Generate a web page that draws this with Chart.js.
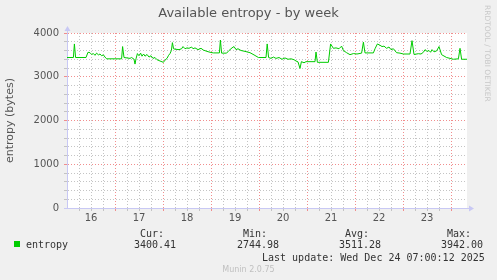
<!DOCTYPE html>
<html>
<head>
<meta charset="utf-8">
<script src="https://cdn.jsdelivr.net/npm/chart.js@4/dist/chart.umd.min.js"></script>
<style>
  html, body { margin: 0; padding: 0; background: #f0f0f0; }
  #wrap { position: relative; width: 497px; height: 280px; overflow: hidden; }
  canvas { position: absolute; left: 0; top: 0; }
  .t { position: absolute; white-space: pre; line-height: 10px; }
  .mono { font: 10px "DejaVu Sans Mono", monospace; color: #333; }
  #title { left: 0; width: 497px; top: 6px; text-align: center; font: 13px "DejaVu Sans", sans-serif; color: #555; line-height: 14px; }
  #rrd { left: 483px; top: 5px; font: 7.5px "DejaVu Sans", sans-serif; color: #c8c8c8; writing-mode: vertical-rl; line-height: 8px; }
  #munin { left: 0; width: 497px; top: 265px; text-align: center; font: 8px "DejaVu Sans", sans-serif; color: #c0c0c0; line-height: 9px; }
  #swatch { position: absolute; left: 14px; top: 241px; width: 6px; height: 6px; background: #00cc00; }
</style>
</head>
<body>
<div id="wrap">
  <canvas id="chart" width="497" height="280"></canvas>
  <div class="t" id="title">Available entropy - by week</div>
  <div class="t" id="rrd">RRDTOOL / TOBI OETIKER</div>
  <div id="swatch"></div>
  <div class="t mono" style="left:26px;top:239px">entropy</div>
  <div class="t mono" style="left:140px;top:228px">Cur:</div>
  <div class="t mono" style="left:134px;top:239px">3400.41</div>
  <div class="t mono" style="left:243px;top:228px">Min:</div>
  <div class="t mono" style="left:237px;top:239px">2744.98</div>
  <div class="t mono" style="left:345px;top:228px">Avg:</div>
  <div class="t mono" style="left:339px;top:239px">3511.28</div>
  <div class="t mono" style="left:447px;top:228px">Max:</div>
  <div class="t mono" style="left:441px;top:239px">3942.00</div>
  <div class="t mono" style="left:262px;top:252px">Last update: Wed Dec 24 07:00:12 2025</div>
  <div class="t" id="munin">Munin 2.0.75</div>
</div>
<script>
// hours since Dec 16 00:00
const hours = [0, 3.2, 3.7, 4.3, 9.5, 10.5, 11.5, 12.3, 13.2, 14, 14.8, 15.7, 16.5, 17.3, 18.2, 19, 19.8,
  27.3, 27.8, 28.5, 30, 31.5, 32.3, 33.5, 34, 34.5, 35.2, 36, 36.8, 37.5, 38.3, 39, 40, 41, 42, 43, 44, 45, 46.5, 48.2,
  49, 50, 50.8, 51.5, 52.2, 52.7, 53.3, 54, 56, 57.3, 58, 59, 60, 61, 62.3, 63, 64, 65.5, 67, 68.2, 70, 71.5, 73.2,
  76.2, 76.7, 77.3, 79.8, 81, 82.5, 83.5, 84.5, 85.5, 87, 89, 91.5, 93.5, 95.7, 99.5, 100.1, 100.8, 102, 103.2,
  104.5, 106, 107.5, 109, 110.5, 112, 113.5, 114.5, 115.5, 116.5, 117.2, 118.5, 119.5, 124, 124.5, 125.2, 130.7,
  131.8, 133.2, 134.5, 136, 137.3, 138.2, 139.8, 141.5, 143.2, 145, 147.3, 148.2, 149, 153.2, 154, 155.2, 156.5,
  157.5, 158.5, 159.8, 161, 162, 163.2, 164.8, 166.5, 168.2, 171.5, 172.5, 173.5, 175.7, 177, 178.2, 179, 180, 181,
  181.8, 182.5, 183.5, 184.8, 186, 187.3, 189.8, 193.2, 195.7, 196.5, 197.3, 200];
const entropy = [3440, 3440, 3750, 3440, 3440, 3560, 3550, 3510, 3530, 3490, 3540, 3500, 3520, 3480, 3500, 3450, 3410,
  3410, 3690, 3440, 3430, 3420, 3440, 3400, 3290, 3410, 3530, 3480, 3540, 3470, 3520, 3470, 3510, 3450, 3480, 3420, 3440, 3390, 3360, 3330,
  3380, 3420, 3490, 3530, 3600, 3780, 3640, 3630, 3620, 3640, 3690, 3640, 3660, 3650, 3680, 3640, 3660, 3620, 3650, 3610, 3580, 3560, 3545,
  3545, 3840, 3540, 3540, 3600, 3660, 3690, 3620, 3640, 3600, 3580, 3550, 3500, 3440, 3440, 3750, 3440, 3420, 3450,
  3420, 3440, 3400, 3430, 3400, 3410, 3390, 3360, 3340, 3190, 3345, 3320, 3345, 3345, 3565, 3330, 3330,
  3750, 3650, 3660, 3640, 3700, 3600, 3550, 3505, 3530, 3520, 3540, 3790, 3545, 3545, 3640, 3750, 3720,
  3690, 3700, 3650, 3680, 3620, 3640, 3550, 3540, 3520, 3520, 3825, 3510, 3527, 3520, 3560, 3620, 3580, 3600,
  3560, 3620, 3570, 3590, 3690, 3505, 3440, 3400, 3410, 3650, 3400, 3400];
const dayLabels = ['16', '17', '18', '19', '20', '21', '22', '23'];
const yTicks = [0, 1000, 2000, 3000, 4000];

const points = hours.map((h, i) => ({ x: h, y: entropy[i] }));
const minorGrid = 'rgba(190,190,190,0.9)';
const majorGrid = 'rgba(240,130,130,0.9)';
const axisColor = '#c8c8f4';

const plotBg = {
  id: 'plotBg',
  beforeDraw(chart) {
    const a = chart.chartArea, c = chart.ctx;
    c.save();
    c.fillStyle = '#ffffff';
    c.fillRect(a.left, a.top, a.right - a.left, a.bottom - a.top);
    c.restore();
  },
  afterDraw(chart) {
    // axis arrows like rrdtool
    const a = chart.chartArea, c = chart.ctx;
    c.save();
    c.fillStyle = axisColor;
    c.strokeStyle = axisColor;
    c.lineWidth = 1;
    c.beginPath();
    c.moveTo(a.left + 0.5, a.top);
    c.lineTo(a.left + 0.5, a.top - 3);
    c.moveTo(a.right, a.bottom + 0.5);
    c.lineTo(a.right + 3, a.bottom + 0.5);
    c.moveTo(a.left - 3, a.bottom + 0.5);
    c.lineTo(a.left, a.bottom + 0.5);
    c.stroke();
    c.beginPath();
    c.moveTo(a.left - 2.5, a.top - 2);
    c.lineTo(a.left + 3.5, a.top - 2);
    c.lineTo(a.left + 0.5, a.top - 7);
    c.fill();
    c.beginPath();
    c.moveTo(a.right + 2, a.bottom - 2.5);
    c.lineTo(a.right + 2, a.bottom + 3.5);
    c.lineTo(a.right + 7, a.bottom + 0.5);
    c.fill();
    c.restore();
  }
};

Chart.defaults.font.family = '"DejaVu Sans", sans-serif';
Chart.defaults.font.size = 10;
Chart.defaults.color = '#555';

new Chart(document.getElementById('chart').getContext('2d'), {
  type: 'line',
  data: {
    datasets: [{
      label: 'entropy',
      data: points,
      borderColor: '#00cc00',
      borderWidth: 1,
      pointRadius: 0,
      tension: 0,
      fill: false
    }]
  },
  options: {
    responsive: false,
    animation: false,
    layout: { padding: { left: 0, right: 30, top: 33, bottom: 0 } },
    plugins: {
      legend: { display: false },
      tooltip: { enabled: false }
    },
    scales: {
      x: {
        type: 'linear',
        min: 0,
        max: 200,
        afterFit(scale) { scale.height = 72; },
        ticks: {
          stepSize: 6,
          autoSkip: false,
          maxRotation: 0,
          padding: 1,
          color: '#555',
          callback(v) {
            if (v % 24 === 12) return dayLabels[(v - 12) / 24];
            return '';
          }
        },
        grid: {
          tickLength: 3,
          color(ctx) {
            const v = ctx.tick && ctx.tick.value;
            if (v === 0 || v === 200 || v % 6 !== 0) return 'rgba(0,0,0,0)';
            return v % 24 === 0 ? majorGrid : minorGrid;
          }
        },
        border: { color: axisColor, dash: [1, 2] }
      },
      y: {
        min: 0,
        max: 4000,
        afterFit(scale) { scale.width = 67; },
        title: {
          display: true,
          text: 'entropy (bytes)',
          font: { size: 11 },
          color: '#555',
          padding: { top: 4, bottom: 0 }
        },
        ticks: {
          stepSize: 200,
          autoSkip: false,
          padding: 5,
          color: '#555',
          callback(v) { return yTicks.includes(v) ? String(v) : ''; }
        },
        grid: {
          tickLength: 3,
          color(ctx) {
            const v = ctx.tick && ctx.tick.value;
            if (v === 0) return 'rgba(0,0,0,0)';
            return v % 1000 === 0 ? majorGrid : minorGrid;
          }
        },
        border: { color: axisColor, dash: [1, 2] }
      }
    }
  },
  plugins: [plotBg]
});
</script>
</body>
</html>
